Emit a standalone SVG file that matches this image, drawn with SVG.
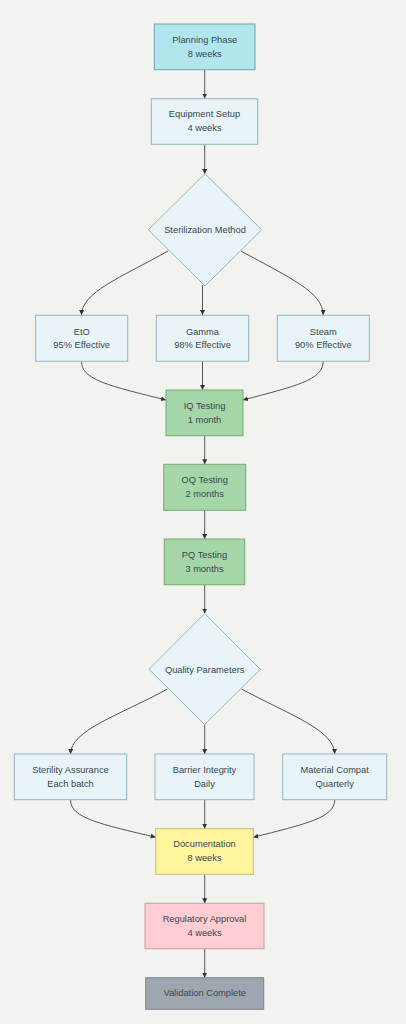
<svg xmlns="http://www.w3.org/2000/svg" width="406" height="1024" viewBox="0 0 406 1024">
<style>
text{font-family:"Liberation Sans",Arial,sans-serif;font-size:9.3px;fill:#37474f;text-anchor:middle}
.lt{fill:#e8f4f8;stroke:#92b6c0;stroke-width:1}
.cy{fill:#b2e6ee;stroke:#6fa3ad;stroke-width:1}
.gr{fill:#a5d6a7;stroke:#76a878;stroke-width:1}
.ye{fill:#fff59d;stroke:#c2bd75;stroke-width:1}
.pk{fill:#ffcdd2;stroke:#c4a1a5;stroke-width:1}
.gy{fill:#9ea7b0;stroke:#7b858e;stroke-width:1}
.c path{fill:none;stroke:#555;stroke-width:1;marker-end:url(#ah)}
</style>
<defs>
<marker id="ah" viewBox="0 0 10 10" refX="10" refY="5" markerWidth="5" markerHeight="5" orient="auto" markerUnits="userSpaceOnUse">
<path d="M0,0L10,5L0,10z" fill="#333"/>
</marker>
</defs>
<rect width="406" height="1024" fill="#f2f2ee"/>
<g class="c">
<path d="M204.7,70L204.7,98.5"/>
<path d="M204.7,144.5L204.7,174"/>
<path d="M168,251C120,278 82,292 81.5,315"/>
<path d="M202.5,285L202.5,315"/>
<path d="M241,251C290,278 323,292 323.2,315"/>
<path d="M81.5,361.5C81.5,380 110,386 166,400"/>
<path d="M202.5,361.5L202.5,390"/>
<path d="M323.2,361.5C323.2,380 296,386 243,400"/>
<path d="M204.7,436L204.7,464.3"/>
<path d="M204.7,510.5L204.7,539"/>
<path d="M204.7,585L204.7,613.5"/>
<path d="M167.5,689C118,716 71,730 70.5,754"/>
<path d="M204.7,724.5L204.7,754"/>
<path d="M241.5,689C292,716 334,730 334.7,754"/>
<path d="M70.5,800C70.5,818 100,824 155.7,837.3"/>
<path d="M204.7,800L204.7,828.7"/>
<path d="M334.7,800C334.7,818 305,824 253.3,837.3"/>
<path d="M204.7,874.5L204.7,903.3"/>
<path d="M204.7,949L204.7,977.7"/>
</g>
<g id="planning"><rect class="cy" x="154.3" y="24" width="100.7" height="45.7"/><text x="204.7" y="42.5">Planning Phase</text><text x="204.7" y="56.8">8 weeks</text></g>
<g id="equipment"><rect class="lt" x="151.3" y="98.7" width="106.4" height="45.6"/><text x="204.5" y="117.3">Equipment Setup</text><text x="204.5" y="131.3">4 weeks</text></g>
<g id="sterilization"><path class="lt" d="M205,173.7L261.7,229.8L205,286L148.3,229.8z"/><text x="205" y="233">Sterilization Method</text></g>
<g id="eto"><rect class="lt" x="35.7" y="315.3" width="92" height="46"/><text x="81.7" y="334.5">EtO</text><text x="81.7" y="348.3">95% Effective</text></g>
<g id="gamma"><rect class="lt" x="156.3" y="315.3" width="92.4" height="46"/><text x="202.5" y="334.5">Gamma</text><text x="202.5" y="348.3">98% Effective</text></g>
<g id="steam"><rect class="lt" x="277.3" y="315.3" width="92" height="46"/><text x="323.3" y="334.5">Steam</text><text x="323.3" y="348.3">90% Effective</text></g>
<g id="iq"><rect class="gr" x="166" y="390" width="77" height="45.7"/><text x="204.5" y="408.9">IQ Testing</text><text x="204.5" y="422.9">1 month</text></g>
<g id="oq"><rect class="gr" x="163.7" y="464.3" width="82" height="46"/><text x="204.7" y="483.3">OQ Testing</text><text x="204.7" y="497.3">2 months</text></g>
<g id="pq"><rect class="gr" x="164.3" y="539" width="80.4" height="45.7"/><text x="204.5" y="558">PQ Testing</text><text x="204.5" y="572">3 months</text></g>
<g id="quality"><path class="lt" d="M204.7,613.5L260.3,669.3L204.7,724.5L149,669.3z"/><text x="204.7" y="672.5">Quality Parameters</text></g>
<g id="sterility"><rect class="lt" x="14.3" y="754" width="112.4" height="45.7"/><text x="70.5" y="772.7">Sterility Assurance</text><text x="70.5" y="786.7">Each batch</text></g>
<g id="barrier"><rect class="lt" x="155" y="754" width="99" height="45.7"/><text x="204.5" y="772.7">Barrier Integrity</text><text x="204.5" y="786.7">Daily</text></g>
<g id="material"><rect class="lt" x="282.7" y="754" width="104" height="45.7"/><text x="334.7" y="772.7">Material Compat</text><text x="334.7" y="786.7">Quarterly</text></g>
<g id="documentation"><rect class="ye" x="155.7" y="828.7" width="97.6" height="45.6"/><text x="204.5" y="847.3">Documentation</text><text x="204.5" y="861.3">8 weeks</text></g>
<g id="regulatory"><rect class="pk" x="145" y="903.3" width="119" height="45.4"/><text x="204.5" y="922">Regulatory Approval</text><text x="204.5" y="936">4 weeks</text></g>
<g id="validation"><rect class="gy" x="145.7" y="977.7" width="118" height="31.6"/><text x="204.7" y="996.3">Validation Complete</text></g>
</svg>
